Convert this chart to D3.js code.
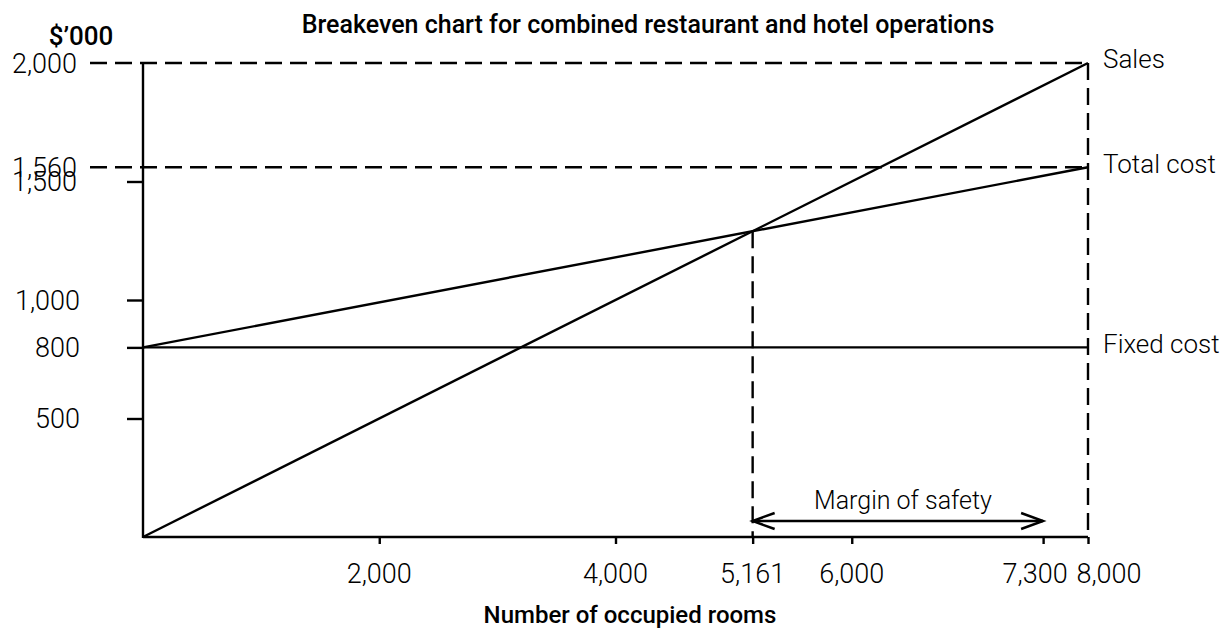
<!DOCTYPE html>
<html><head><meta charset="utf-8">
<script src="https://cdn.jsdelivr.net/npm/d3@7"></script>
<style>
html,body{margin:0;padding:0;background:#fff;}
svg{display:block;}
.lbl{font-family:Roboto,"Noto Sans",sans-serif;font-weight:300;fill:#000;}
.ttl{font-family:Roboto,"Noto Sans",sans-serif;font-weight:500;fill:#000;}
</style></head>
<body>
<svg id="chart" width="1220" height="632"></svg>
<script>
// ---- data ----
const salesLine = [[0, 0], [8000, 2000]];
const totalCostLine = [[0, 800], [8000, 1560]];
const fixedCostLine = [[0, 800], [8000, 800]];
const breakeven = [5161, 1290];
const maxRooms = 8000;
const marginEnd = 7620; // position of the "7,300" mark as drawn
const xTickValues = [2000, 4000, 5161, 6000, 7620, 8000];
const xTickLabels = ["2,000", "4,000", "5,161", "6,000", "7,300", "8,000"];
const xLabelShift = [0, 0, 0, 0, -8, 21];
const yTickValues = [500, 800, 1000, 1500];
const yLabelValues = [500, 800, 1000, 1500, 1560, 2000];
const yLabelTexts = ["500", "800", "1,000", "1,500", "1,560", "2,000"];
const dashedLevels = [2000, 1560];
const lineNames = ["Sales", "Total cost", "Fixed cost"];
const lineNameValues = [2000, 1560, 800];

const svg = d3.select("#chart");
const x = d3.scaleLinear().domain([0, 8000]).range([143, 1088]);
const y = d3.scaleLinear().domain([0, 2000]).range([537, 63]);
const dash = "17,8";
const sw = 2.4;

// dashed reference lines
svg.selectAll(".hdash").data(dashedLevels).enter().append("line")
  .attr("x1", 90).attr("x2", x(maxRooms))
  .attr("y1", d => y(d)).attr("y2", d => y(d))
  .attr("stroke", "#000").attr("stroke-width", sw).attr("stroke-dasharray", dash);
svg.append("line").attr("x1", x(maxRooms)).attr("x2", x(maxRooms))
  .attr("y1", y(2000)).attr("y2", y(0))
  .attr("stroke", "#000").attr("stroke-width", sw).attr("stroke-dasharray", dash);
svg.append("line").attr("x1", x(breakeven[0])).attr("x2", x(breakeven[0]))
  .attr("y1", y(breakeven[1])).attr("y2", y(0))
  .attr("stroke", "#000").attr("stroke-width", sw).attr("stroke-dasharray", dash);

// axes
const yAxis = d3.axisLeft(y).tickValues(yTickValues).tickSize(16).tickFormat("");
const gy = svg.append("g").attr("transform", `translate(${x(0)},0)`).call(yAxis);
const xAxis = d3.axisBottom(x).tickValues(xTickValues).tickSize(7).tickFormat("");
const gx = svg.append("g").attr("transform", `translate(0,${y(0)})`).call(xAxis);
[gx, gy].forEach(g => {
  g.select(".domain").remove();
  g.selectAll(".tick line").attr("stroke", "#000").attr("stroke-width", sw);
});
svg.append("line").attr("x1", x(0)).attr("x2", x(0)).attr("y1", y(0) + 1).attr("y2", y(2000) - 1)
  .attr("stroke", "#000").attr("stroke-width", sw);
svg.append("line").attr("x1", x(0)).attr("x2", x(maxRooms)).attr("y1", y(0)).attr("y2", y(0))
  .attr("stroke", "#000").attr("stroke-width", sw);

// lines
const line = d3.line().x(d => x(d[0])).y(d => y(d[1]));
[salesLine, totalCostLine, fixedCostLine].forEach(l => {
  svg.append("path").attr("d", line(l)).attr("fill", "none")
    .attr("stroke", "#000").attr("stroke-width", sw);
});

// margin of safety arrow
const ay = 521;
svg.append("line").attr("x1", x(breakeven[0])).attr("x2", x(marginEnd))
  .attr("y1", ay).attr("y2", ay).attr("stroke", "#000").attr("stroke-width", sw);
svg.append("path").attr("d", `M${x(breakeven[0]) + 22},${ay - 8}L${x(breakeven[0])},${ay}L${x(breakeven[0]) + 22},${ay + 8}`)
  .attr("fill", "none").attr("stroke", "#000").attr("stroke-width", sw);
svg.append("path").attr("d", `M${x(marginEnd) - 22},${ay - 8}L${x(marginEnd)},${ay}L${x(marginEnd) - 22},${ay + 8}`)
  .attr("fill", "none").attr("stroke", "#000").attr("stroke-width", sw);
svg.append("text").attr("class", "lbl").attr("x", 903).attr("y", 509)
  .attr("text-anchor", "middle").style("font-size", "25px").text("Margin of safety");

// y labels
svg.selectAll(".ylab").data(yLabelValues).enter().append("text").attr("class", "lbl")
  .attr("x", d => d >= 1500 ? 77 : 80)
  .attr("y", d => y(d)).attr("dy", "0.36em")
  .attr("text-anchor", "end").style("font-size", "27px")
  .text((d, i) => yLabelTexts[i]);

// x labels
svg.selectAll(".xlab").data(xTickValues).enter().append("text").attr("class", "lbl")
  .attr("x", (d, i) => x(d) + xLabelShift[i]).attr("y", 583).attr("text-anchor", "middle").style("font-size", "27px")
  .text((d, i) => xTickLabels[i]);

// line names
svg.selectAll(".lname").data(lineNameValues).enter().append("text").attr("class", "lbl")
  .attr("x", 1103).attr("y", d => y(d) - 4).attr("dy", "0.36em").style("font-size", "26px")
  .text((d, i) => lineNames[i]);

// titles
svg.append("text").attr("class", "ttl").attr("x", 648).attr("y", 33).attr("text-anchor", "middle")
  .style("font-size", "25px").text("Breakeven chart for combined restaurant and hotel operations");
svg.append("text").attr("class", "ttl").attr("x", 81).attr("y", 45).attr("text-anchor", "middle")
  .style("font-size", "26px").text("$’000");
svg.append("text").attr("class", "ttl").attr("x", 630).attr("y", 623).attr("text-anchor", "middle")
  .style("font-size", "24px").text("Number of occupied rooms");
</script>
</body></html>
